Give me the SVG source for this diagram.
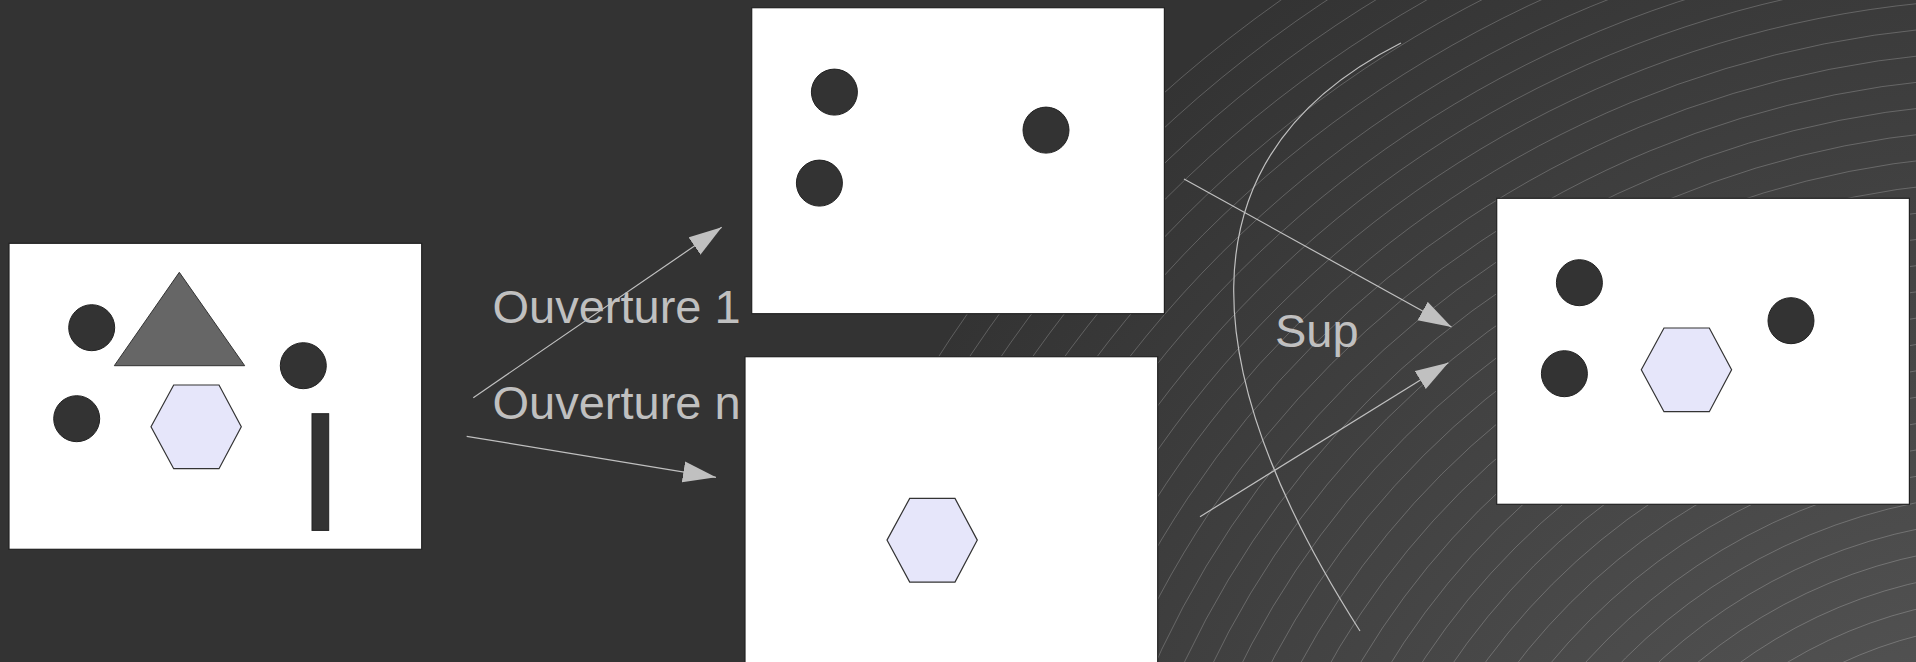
<svg xmlns="http://www.w3.org/2000/svg" width="1916" height="662" viewBox="0 0 1916 662">
<defs>
<radialGradient id="bgGrad" gradientUnits="userSpaceOnUse" cx="2026" cy="1058" r="1300">
<stop offset="0" stop-color="#5e5e5e"/>
<stop offset="1" stop-color="#333333"/>
</radialGradient>
<marker id="arrow" markerUnits="userSpaceOnUse" markerWidth="34" markerHeight="22" refX="33" refY="11" orient="auto">
<path d="M0,0.5 L33,11 L0,21.5 z" fill="#c0c0c0"/>
</marker>
<g id="dots">
<circle cx="82.7" cy="84.4" r="23" class="dot"/>
<circle cx="67.7" cy="175.4" r="23" class="dot"/>
<circle cx="294.3" cy="122.4" r="23" class="dot"/>
</g>
</defs>
<style>
.panel{fill:#ffffff;stroke:#222222;stroke-width:1.2}
.dot{fill:#333333;stroke:#222222;stroke-width:1}
.hex{fill:#e6e6fa;stroke:#333333;stroke-width:1.2}
.tri{fill:#666666;stroke:#333333;stroke-width:1}
.bar{fill:#333333;stroke:#222222;stroke-width:1}
.label{font-family:"Liberation Sans",Arial,sans-serif;font-size:47px;fill:#c0c0c0}
.conn{fill:none;stroke:#c0c0c0;stroke-width:1.2}
.ring{fill:none;stroke:#ffffff;stroke-opacity:0.27;stroke-width:0.8}
</style>
<rect x="0" y="0" width="1916" height="662" fill="#333333"/>
<rect x="0" y="0" width="1916" height="662" fill="url(#bgGrad)"/>
<g id="rings">
<circle class="ring" cx="2026" cy="1058" r="1294"/>
<circle class="ring" cx="2026" cy="1058" r="1268"/>
<circle class="ring" cx="2026" cy="1058" r="1242"/>
<circle class="ring" cx="2026" cy="1058" r="1216"/>
<circle class="ring" cx="2026" cy="1058" r="1190"/>
<circle class="ring" cx="2026" cy="1058" r="1164"/>
<circle class="ring" cx="2026" cy="1058" r="1138"/>
<circle class="ring" cx="2026" cy="1058" r="1112"/>
<circle class="ring" cx="2026" cy="1058" r="1086"/>
<circle class="ring" cx="2026" cy="1058" r="1060"/>
<circle class="ring" cx="2026" cy="1058" r="1034"/>
<circle class="ring" cx="2026" cy="1058" r="1008"/>
<circle class="ring" cx="2026" cy="1058" r="982"/>
<circle class="ring" cx="2026" cy="1058" r="956"/>
<circle class="ring" cx="2026" cy="1058" r="930"/>
<circle class="ring" cx="2026" cy="1058" r="904"/>
<circle class="ring" cx="2026" cy="1058" r="878"/>
<circle class="ring" cx="2026" cy="1058" r="852"/>
<circle class="ring" cx="2026" cy="1058" r="826"/>
<circle class="ring" cx="2026" cy="1058" r="800"/>
<circle class="ring" cx="2026" cy="1058" r="774"/>
<circle class="ring" cx="2026" cy="1058" r="748"/>
<circle class="ring" cx="2026" cy="1058" r="722"/>
<circle class="ring" cx="2026" cy="1058" r="696"/>
<circle class="ring" cx="2026" cy="1058" r="670"/>
<circle class="ring" cx="2026" cy="1058" r="644"/>
<circle class="ring" cx="2026" cy="1058" r="618"/>
<circle class="ring" cx="2026" cy="1058" r="592"/>
<circle class="ring" cx="2026" cy="1058" r="566"/>
<circle class="ring" cx="2026" cy="1058" r="540"/>
<circle class="ring" cx="2026" cy="1058" r="514"/>
<circle class="ring" cx="2026" cy="1058" r="488"/>
<circle class="ring" cx="2026" cy="1058" r="462"/>
<circle class="ring" cx="2026" cy="1058" r="436"/>
<circle class="ring" cx="2026" cy="1058" r="410"/>
<circle class="ring" cx="2026" cy="1058" r="384"/>
<circle class="ring" cx="2026" cy="1058" r="358"/>
</g>
<g id="labels">
<text class="label" x="492.5" y="322.7">Ouverture 1</text>
<text class="label" x="492.5" y="419.3">Ouverture n</text>
<text class="label" x="1275" y="346.7">Sup</text>
</g>
<g id="connectors">
<line class="conn" x1="473.3" y1="397.7" x2="721.7" y2="227.3" marker-end="url(#arrow)"/>
<line class="conn" x1="466.7" y1="436.3" x2="716" y2="477.3" marker-end="url(#arrow)"/>
<line class="conn" x1="1184" y1="179" x2="1451.5" y2="327" marker-end="url(#arrow)"/>
<line class="conn" x1="1200" y1="516.7" x2="1448.3" y2="362.7" marker-end="url(#arrow)"/>
<path class="conn" d="M1401,43 C1169.6,160 1200,380 1360,631"/>
</g>
<g id="panel-source" transform="translate(9,243.3)">
<rect class="panel" x="0" y="0" width="412.7" height="306"/>
<use href="#dots"/>
<polygon class="tri" points="170.3,29 105.3,122.4 235.7,122.4"/>
<polygon class="hex" points="142,183.4 164.7,141.7 210,141.7 232.3,183.4 210,225.4 164.7,225.4"/>
<rect class="bar" x="303" y="170.4" width="16.7" height="116.7"/>
</g>
<g id="panel-ouverture-1" transform="translate(751.7,7.7)">
<rect class="panel" x="0" y="0" width="412.7" height="306"/>
<use href="#dots"/>
</g>
<g id="panel-ouverture-n" transform="translate(745,356.7)">
<rect class="panel" x="0" y="0" width="412.7" height="306"/>
<polygon class="hex" points="142,183.4 164.7,141.7 210,141.7 232.3,183.4 210,225.4 164.7,225.4"/>
</g>
<g id="panel-result" transform="translate(1496.7,198.3)">
<rect class="panel" x="0" y="0" width="412.7" height="306"/>
<use href="#dots"/>
<polygon class="hex" points="144.6,171.4 167.3,129.7 212.6,129.7 234.9,171.4 212.6,213.4 167.3,213.4"/>
</g>
</svg>
